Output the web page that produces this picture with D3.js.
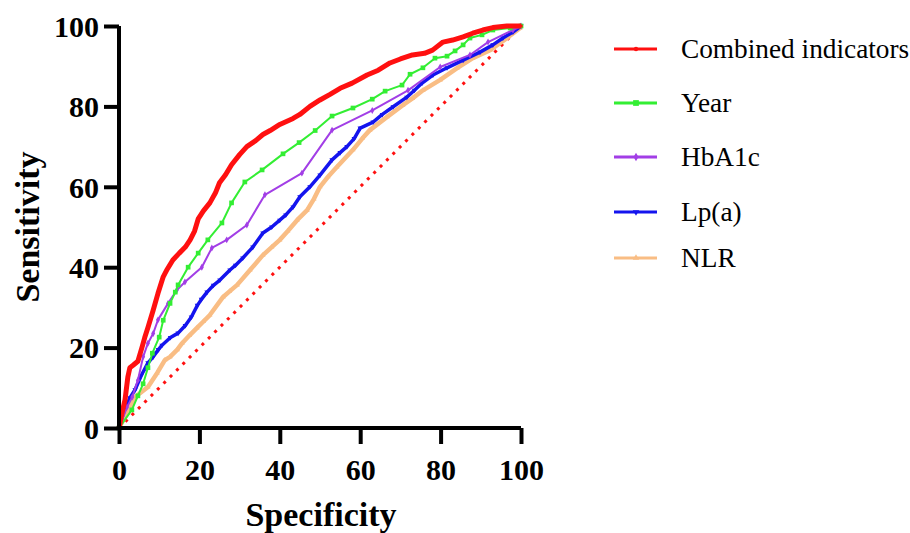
<!DOCTYPE html>
<html>
<head>
<meta charset="utf-8">
<script src="https://cdn.jsdelivr.net/npm/d3@7"></script>
<style>
  body { margin: 0; background: #fff; }
  svg { display: block; }
</style>
</head>
<body>
<svg id="roc" width="910" height="533"></svg>
<script>
(function(){
const width = 910;
const height = 533;

// --- Data (specificity %, sensitivity %) ---
const combined = [[0,0],[0.8,4],[1.5,7],[2.2,12.7],[2.7,15],[3.5,15.6],[4.7,16.6],[5.7,20],[6.4,22.5],[7.2,25],[8.5,29.3],[9.7,33.5],[11,37.6],[12,39.5],[13.4,41.8],[15,43.5],[16.5,45],[17.7,46.8],[18.8,49],[19.7,52],[21,54],[22.6,56],[24,58.5],[25,61],[26.5,63],[28,65.5],[30,68],[31.8,70],[34,71.5],[35.8,73],[37.6,74],[40,75.5],[43.3,77],[45,78],[47.5,80],[50,81.6],[52.5,83],[55,84.5],[58,85.8],[61.7,87.8],[64.5,89],[67.4,90.8],[70,91.8],[73,92.8],[76,93.2],[78,94],[80.6,96],[83,96.5],[85.6,97.3],[88,98.2],[90.5,99],[93,99.6],[96.5,100],[100,100]];

const year = [[0,0],[3.2,4.5],[4.7,8],[6,11],[7.2,15],[8.3,18.6],[10,22.6],[11,26.8],[12.7,31],[14,33.8],[14.7,35.6],[17.2,40],[19.7,43.5],[22.1,46.8],[25.6,51],[28,56],[31.3,61.2],[35.6,64.2],[40.8,68.2],[44.8,71],[48.8,74],[53,77.6],[58.2,79.6],[63,81.8],[66.2,83.8],[70.4,85.3],[72.4,88],[75.6,89.6],[78.6,92],[81.6,92.5],[83.6,93.8],[85.6,95.3],[87.3,97],[90.3,97.8],[93,99],[97.3,99.5],[100,100]];

const hba1c = [[0,0],[2,5.2],[3.3,7.7],[4.7,11.9],[6,17.7],[7.2,21.1],[8.5,23.5],[9.7,26.9],[12.2,31],[14.4,34.3],[16.4,36.3],[20.6,40],[23.1,44.8],[26.8,46.8],[31.8,50.5],[36.3,58],[45.5,63.4],[53,74.1],[63,79],[71.9,84],[79.9,89.8],[87.3,92.8],[91.8,96],[98,99],[100,100]];

const lpa = [[0,0],[1.2,4],[2.7,7.5],[4,9.5],[5.5,13],[7.2,16.2],[8.5,17.7],[9.8,19.5],[10.7,20.6],[12.8,22.5],[14.7,23.6],[16.5,25.5],[18,27.6],[19.5,30.5],[20.5,32],[21.9,33.8],[23.5,35.5],[25.1,36.8],[27.6,39.3],[29,40.5],[30.8,42.3],[33.3,45],[35.8,48.5],[38,50],[40,51.7],[41.5,53],[43.3,55],[45,57.5],[47.5,60],[50,62.9],[53,66.7],[55,68.5],[56.7,70],[58.5,72],[60,74.6],[63.2,76.1],[65.5,78],[68.2,79.9],[71.6,82.3],[73.5,84],[75.4,85.8],[78.1,87.8],[81.6,89.6],[85.6,91.5],[89.8,93.5],[93,95.3],[95.5,97],[98,98.5],[100,100]];

const nlr = [[0,0],[2,3.7],[4,7.7],[7.2,10.2],[9.5,13.7],[11.4,16.9],[12.7,17.7],[14.5,19.5],[15.7,21.1],[17.5,23],[19.4,24.9],[21,26.5],[22.6,28.1],[25.9,32.6],[27.5,34],[29.4,35.6],[32.6,39.3],[35.8,43],[38,45],[40,46.8],[42,49],[44.3,51.7],[46.8,54.2],[48.5,57],[50,60],[52,62.5],[54.2,64.9],[58.2,69.2],[60.5,72],[62.4,74.1],[66.7,77.4],[70.6,80.3],[73,82],[75.6,84],[79.9,86.6],[84.1,89.5],[88,92],[92.3,94],[96.5,97],[99.8,99.5],[100,100]];

const seriesNames = ["Combined indicators", "Year", "HbA1c", "Lp(a)", "NLR"];
const seriesData = [combined, year, hba1c, lpa, nlr];
const colors = ["#ff1010", "#33ee33", "#a23ee6", "#1414ee", "#f9bd84"];
const lineWidths = [5, 2, 2, 3.5, 4.5];
const markerTypes = [d3.symbolCircle, d3.symbolSquare, d3.symbolDiamond, d3.symbolTriangle, d3.symbolTriangle];
const markerSizes = [10, 22, 14, 12, 12];
const tickValues = [0, 20, 40, 60, 80, 100];

const svg = d3.select("#roc");

const x = d3.scaleLinear().domain([0, 100]).range([119, 521]);
const y = d3.scaleLinear().domain([0, 100]).range([428, 26]);

const serif = "'Liberation Serif', 'Times New Roman', serif";

// --- Reference diagonal ---
svg.append("line")
  .attr("x1", x(0)).attr("y1", y(0))
  .attr("x2", x(100)).attr("y2", y(100))
  .attr("stroke", "#ff1010")
  .attr("stroke-width", 3)
  .attr("stroke-dasharray", "3,6");

// --- Curves (drawn back to front) ---
const line = d3.line().x(d => x(d[0])).y(d => y(d[1]));
const order = [4, 3, 2, 1, 0];

order.forEach(i => {
  const g = svg.append("g");
  g.append("path")
    .datum(seriesData[i])
    .attr("d", line)
    .attr("fill", "none")
    .attr("stroke", colors[i])
    .attr("stroke-width", lineWidths[i])
    .attr("stroke-linejoin", "round");
  g.selectAll("path.mk")
    .data(seriesData[i])
    .enter()
    .append("path")
    .attr("class", "mk")
    .attr("d", d3.symbol().type(markerTypes[i]).size(markerSizes[i]))
    .attr("transform", d => `translate(${x(d[0])},${y(d[1])})` + (i === 3 ? " rotate(180)" : ""))
    .attr("fill", colors[i]);
});

// --- Axes ---
const xAxis = d3.axisBottom(x).tickValues(tickValues).tickSize(16).tickPadding(15);
const yAxis = d3.axisLeft(y).tickValues(tickValues).tickSize(15).tickPadding(5);

const gx = svg.append("g").attr("transform", `translate(0,${y(0)})`).call(xAxis);
const gy = svg.append("g").attr("transform", `translate(${x(0)},0)`).call(yAxis);

[gx, gy].forEach(g => {
  g.select(".domain").attr("stroke", "#000").attr("stroke-width", 4);
  g.selectAll(".tick line").attr("stroke", "#000").attr("stroke-width", 4);
  g.selectAll(".tick text")
    .attr("fill", "#000")
    .attr("font-family", serif)
    .attr("font-weight", "bold")
    .attr("font-size", 30);
});
gx.select(".domain").attr("d", `M${x(0)},0H${x(100)}`);
gy.select(".domain").attr("d", `M0,${y(0)}V${y(100)}`);
gy.selectAll(".tick text").attr("dy", "0.34em");

// --- Axis titles ---
svg.append("text")
  .attr("x", 321)
  .attr("y", 526)
  .attr("text-anchor", "middle")
  .attr("font-family", serif)
  .attr("font-weight", "bold")
  .attr("font-size", 34)
  .text("Specificity");

svg.append("text")
  .attr("transform", `translate(39,${(y(0) + y(100)) / 2}) rotate(-90)`)
  .attr("text-anchor", "middle")
  .attr("font-family", serif)
  .attr("font-weight", "bold")
  .attr("font-size", 34)
  .text("Sensitivity");

// --- Legend ---
const legendY = [49, 103, 157, 212, 258];
const legend = svg.append("g")
  .selectAll("g")
  .data(seriesNames)
  .enter()
  .append("g")
  .attr("transform", (d, i) => `translate(0,${legendY[i]})`);

legend.append("line")
  .attr("x1", 614).attr("x2", 657)
  .attr("y1", 0).attr("y2", 0)
  .attr("stroke", (d, i) => colors[i])
  .attr("stroke-width", 3);

legend.append("path")
  .attr("d", (d, i) => d3.symbol().type(markerTypes[i]).size(markerSizes[i] * 1.5)())
  .attr("transform", (d, i) => "translate(636,0)" + (i === 3 ? " rotate(180)" : ""))
  .attr("fill", (d, i) => colors[i]);

legend.append("text")
  .attr("x", 681)
  .attr("y", 9)
  .attr("font-family", serif)
  .attr("font-size", 27.3)
  .attr("fill", "#000")
  .text(d => d);
})();
</script>
</body>
</html>
